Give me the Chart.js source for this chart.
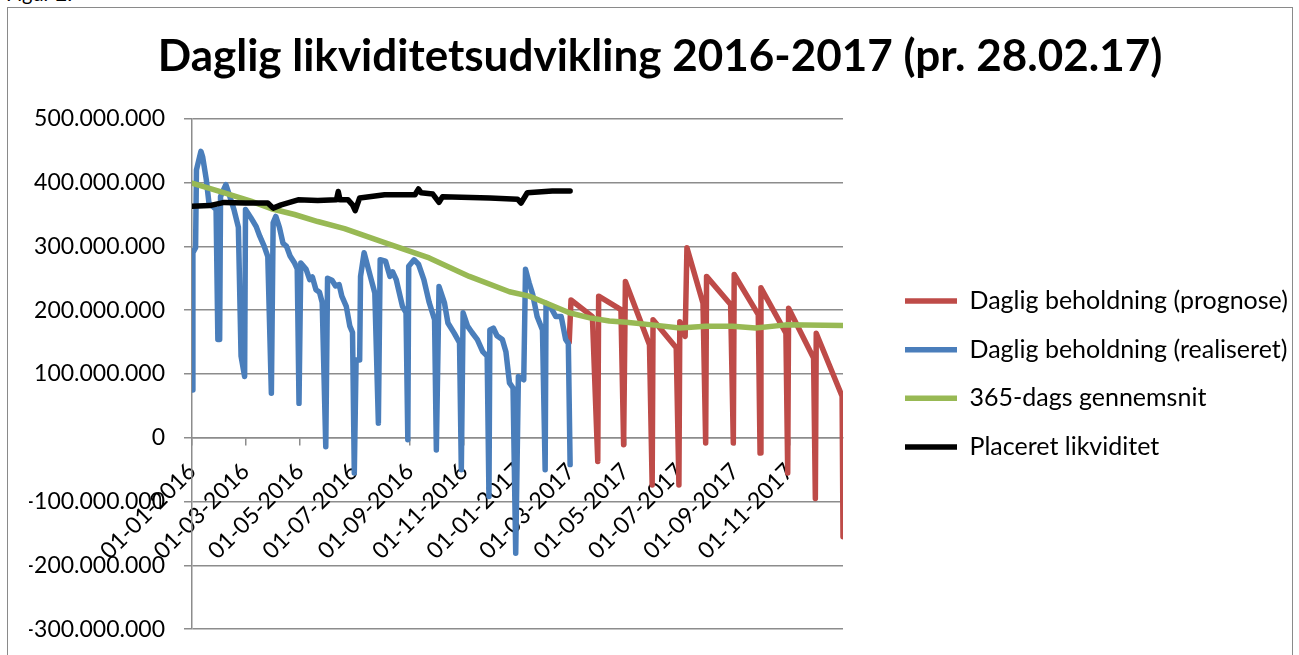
<!DOCTYPE html>
<html>
<head>
<meta charset="utf-8">
<script src="https://cdn.jsdelivr.net/npm/chart.js@4.4.1/dist/chart.umd.min.js"></script>
<style>
  body { margin: 0; background: #fff; overflow: hidden; }
  #fig { position: absolute; left: 6px; top: -19px; font: 20px Lato, sans-serif; color: #000; }
  #frame { position: absolute; left: 7px; top: 7px; width: 1284px; height: 660px; border: 1px solid #8a8a8a; }
  #wrap { position: absolute; left: 8px; top: 8px; width: 1283px; height: 654px; }
</style>
</head>
<body>
<div id="fig">Figur 2:</div>
<div id="frame"></div>
<div id="wrap"><canvas id="chart"></canvas></div>
<script>
// x values are days counted from 01-01-2016, y values in millions of kr.
const xTickLabels = ['01-01-2016', '01-03-2016', '01-05-2016', '01-07-2016', '01-09-2016', '01-11-2016',
  '01-01-2017', '01-03-2017', '01-05-2017', '01-07-2017', '01-09-2017', '01-11-2017'];

const prognoseDays = [423, 425, 449, 455, 456, 481, 484, 486, 513, 516, 517, 543, 546, 547, 553, 555, 573, 576, 577,
  604, 607, 608, 635, 637, 638, 666, 668, 669, 697, 699, 700, 729, 730];
const prognoseValues = [150, 216, 190, -37, 222, 201, -11, 245, 146, -74, 185, 141, -74, 182, 159, 298, 211, -8, 253,
  209, -8, 256, 193, -24, 235, 164, -55, 203, 125, -95, 164, 65, -155];

const realDays = [0, 1, 4, 5, 10, 12, 16, 19, 27, 29, 31, 32, 38, 42, 47, 52, 55, 59, 60, 66,
  72, 76, 81, 85, 89, 91, 94, 98, 102, 106, 110, 115, 118, 120, 122, 128, 132, 135, 139, 143,
  146, 150, 152, 157, 161, 165, 168, 173, 177, 180, 182, 184, 188, 189, 193, 200, 205, 209, 211, 217,
  222, 225, 229, 236, 240, 242, 243, 249, 254, 260, 266, 272, 274, 277, 283, 287, 294, 300, 302, 304,
  309, 314, 320, 326, 331, 333, 334, 338, 342, 348, 352, 356, 360, 363, 366, 372, 374, 378, 382, 387,
  393, 396, 397, 402, 408, 414, 419, 422, 424];
const realValues = [75, 290, 298, 420, 449, 440, 405, 368, 358, 154, 154, 378, 397, 380, 358, 330, 128, 96, 358, 345,
  331, 316, 300, 284, 70, 337, 347, 330, 305, 300, 285, 274, 265, 54, 274, 264, 248, 252, 232, 228,
  212, -14, 250, 247, 238, 240, 222, 206, 175, 165, -55, 122, 122, 253, 290, 253, 227, 23, 279, 277,
  253, 260, 248, 206, 196, -3, 269, 279, 272, 248, 212, 185, -19, 237, 212, 180, 164, 149, -50, 196,
  175, 165, 154, 135, 128, -92, 169, 172, 160, 154, 135, 86, 78, -181, 96, 91, 264, 243, 225, 190,
  169, -50, 211, 205, 190, 190, 154, 148, -42];

const avgDays = [0, 29, 66, 89, 115, 141, 171, 216, 266, 311, 356, 378, 401, 423, 446, 468, 487, 516, 547, 576, 606, 632, 666, 730];
const avgValues = [399, 387, 371, 359, 350, 339, 328, 306, 282, 253, 229, 222, 209, 196, 188, 183, 181, 177, 172, 175, 175, 172, 177, 176];

const placeretDays = [0, 20, 36, 60, 85, 91, 100, 119, 141, 162, 164, 166, 175, 180, 183, 188, 216, 221, 250, 254,
  257, 270, 277, 281, 334, 365, 369, 376, 404, 424];
const placeretValues = [363, 364, 369, 368, 368, 360, 365, 373, 372, 373, 386, 373, 373, 365, 356, 376, 381, 381, 381, 390,
  384, 382, 369, 378, 376, 374, 368, 384, 387, 387];

function dayOf(label) {
  const [d, m, y] = label.split('-').map(Number);
  return (Date.UTC(y, m - 1, d) - Date.UTC(2016, 0, 1)) / 86400000;
}
const xTickDays = xTickLabels.map(dayOf);

function points(days, values) {
  return days.map((d, i) => ({ x: d, y: values[i] }));
}

function formatKr(v) {
  const n = Math.round(v * 1000000);
  const s = Math.abs(n).toString().replace(/\B(?=(\d{3})+(?!\d))/g, '.');
  return (n < 0 ? '-' : '') + s;
}

const lineStyle = {
  borderWidth: 5.5,
  pointRadius: 0,
  pointHoverRadius: 0,
  tension: 0,
  fill: false,
  borderCapStyle: 'round',
  borderJoinStyle: 'round'
};
const gridColor = '#8c8c8c';
const tickFont = { family: 'Lato', size: 23 };

new Chart(document.getElementById('chart'), {
  type: 'line',
  data: {
    datasets: [
      { label: 'Daglig beholdning (prognose)', data: points(prognoseDays, prognoseValues), borderColor: '#BE4B48', backgroundColor: '#BE4B48', order: 4, ...lineStyle },
      { label: 'Daglig beholdning (realiseret)', data: points(realDays, realValues), borderColor: '#4A7EBB', backgroundColor: '#4A7EBB', order: 3, ...lineStyle },
      { label: '365-dags gennemsnit', data: points(avgDays, avgValues), borderColor: '#98B954', backgroundColor: '#98B954', order: 2, ...lineStyle },
      { label: 'Placeret likviditet', data: points(placeretDays, placeretValues), borderColor: '#000000', backgroundColor: '#000000', order: 1, ...lineStyle }
    ]
  },
  options: {
    responsive: true,
    maintainAspectRatio: false,
    animation: false,
    layout: { padding: { left: 21, right: 0, top: 0, bottom: 0 } },
    plugins: {
      title: {
        display: true,
        text: 'Daglig likviditetsudvikling 2016-2017 (pr. 28.02.17)',
        color: '#000',
        font: { family: 'Lato', size: 44, weight: 'bold' },
        padding: { top: 22, bottom: 36 }
      },
      legend: {
        position: 'right',
        align: 'center',
        fullSize: false,
        maxWidth: 409.7,
        labels: {
          usePointStyle: true,
          pointStyle: 'line',
          pointStyleWidth: 52,
          padding: 23.7,
          color: '#000',
          font: { family: 'Lato', size: 25 },
          sort: (a, b) => a.datasetIndex - b.datasetIndex
        }
      },
      tooltip: { enabled: false }
    },
    scales: {
      x: {
        type: 'linear',
        min: 0,
        max: 730,
        position: { y: 0 },
        afterBuildTicks: (scale) => { scale.ticks = xTickDays.map(v => ({ value: v })); },
        grid: { drawOnChartArea: false, tickLength: 7, color: gridColor, lineWidth: 1.5 },
        border: { display: true, color: gridColor, width: 1.5 },
        ticks: {
          autoSkip: false,
          minRotation: 45,
          maxRotation: 45,
          padding: 13,
          color: '#000',
          font: tickFont,
          callback: (value, index) => xTickLabels[index]
        }
      },
      y: {
        min: -300,
        max: 500,
        afterFit: (scale) => { scale.width = 163; },
        grid: { color: gridColor, lineWidth: 1.5, tickLength: 8 },
        border: { color: gridColor, width: 1.5 },
        ticks: { stepSize: 100, padding: 19, color: '#000', font: tickFont, callback: (v) => formatKr(v) }
      },
      gap: {
        type: 'linear',
        axis: 'y',
        position: 'right',
        display: true,
        afterFit: (scale) => { scale.width = 38.3; },
        grid: { display: false },
        border: { display: false },
        ticks: { display: false }
      }
    }
  }
});
</script>
</body>
</html>
